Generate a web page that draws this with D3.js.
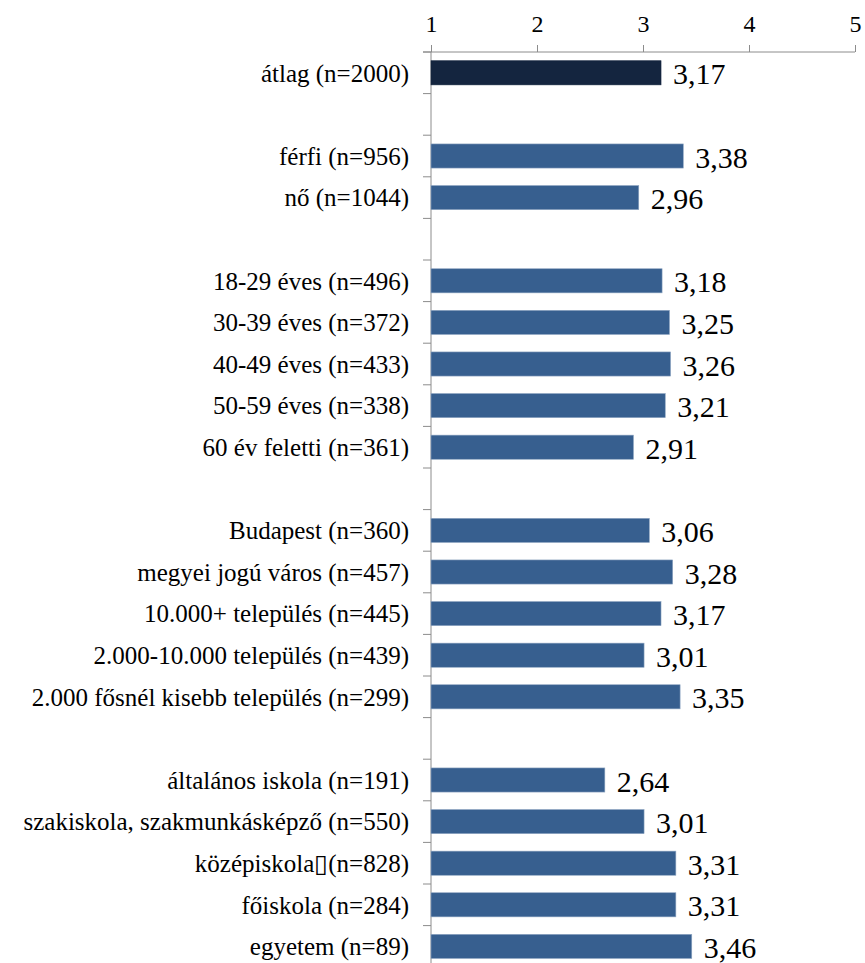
<!DOCTYPE html>
<html><head><meta charset="utf-8">
<script src="https://cdn.jsdelivr.net/npm/d3@7/dist/d3.min.js"></script>
</head><body style="margin:0">
<svg id="chart" width="865" height="963" font-family='"Liberation Serif"'></svg>
<script>
// ---- data ----
const categories = [
  "átlag (n=2000)",
  "",
  "férfi (n=956)",
  "nő (n=1044)",
  "",
  "18-29 éves (n=496)",
  "30-39 éves (n=372)",
  "40-49 éves (n=433)",
  "50-59 éves (n=338)",
  "60 év feletti (n=361)",
  "",
  "Budapest (n=360)",
  "megyei jogú város (n=457)",
  "10.000+ település (n=445)",
  "2.000-10.000 település (n=439)",
  "2.000 fősnél kisebb település (n=299)",
  "",
  "általános iskola (n=191)",
  "szakiskola, szakmunkásképző (n=550)",
  "középiskola▯(n=828)",
  "főiskola (n=284)",
  "egyetem (n=89)"
];
const values = [
  3.17,
  null,
  3.38, 2.96,
  null,
  3.18, 3.25, 3.26, 3.21, 2.91,
  null,
  3.06, 3.28, 3.17, 3.01, 3.35,
  null,
  2.64, 3.01, 3.31, 3.31, 3.46
];
const xTicks = [1, 2, 3, 4, 5];

// ---- layout ----
const svg = d3.select("#chart");
const mLeft = 431, mRight = 855, mTop = 52;
const step = 41.6;
const mBottom = mTop + step * categories.length;

const rows = categories.map((c, i) => ({ key: i, label: c, value: values[i] }));

const x = d3.scaleLinear().domain([1, 5]).range([mLeft, mRight]);
const y = d3.scaleBand()
  .domain(rows.map(d => d.key))
  .range([mTop, mBottom])
  .paddingInner(0.42)
  .paddingOuter(0.21);

const axisColor = "#8c8c8c";

// top axis
const xAxis = d3.axisTop(x).tickValues(xTicks).tickSize(7).tickSizeOuter(0).tickFormat(d3.format("d"));
const gx = svg.append("g").attr("transform", `translate(0,${mTop})`).call(xAxis);
gx.attr("font-family", '"Liberation Serif"').attr("font-size", 24);
gx.select(".domain").attr("stroke", axisColor).attr("d", `M${mLeft - 8},0H${mRight}`);
gx.selectAll(".tick line").attr("stroke", axisColor);
gx.selectAll(".tick text")
  .attr("font-family", '"Liberation Serif"')
  .attr("font-size", 24)
  .attr("y", -20)
  .attr("fill", "#000");

// left axis line + ticks at band boundaries
const boundaries = d3.range(categories.length + 1).map(i => y.range()[0] + i * y.step());
svg.append("line")
  .attr("x1", mLeft).attr("x2", mLeft)
  .attr("y1", mTop).attr("y2", mBottom)
  .attr("stroke", axisColor);
svg.append("g").selectAll("line").data(boundaries).join("line")
  .attr("x1", mLeft - 8).attr("x2", mLeft)
  .attr("y1", d => d).attr("y2", d => d)
  .attr("stroke", axisColor);

// category labels
svg.append("g").selectAll("text").data(rows.filter(d => d.label)).join("text")
  .attr("x", mLeft - 22)
  .attr("y", d => y(d.key) + y.bandwidth() / 2)
  .attr("font-size", 25)
  .attr("font-family", '"Liberation Serif"')
  .attr("dy", "0.35em")
  .attr("text-anchor", "end")
  .text(d => d.label);

// bars
const dataRows = rows.filter(d => d.value != null);
svg.append("g").selectAll("rect").data(dataRows).join("rect")
  .attr("x", x(1))
  .attr("y", d => y(d.key))
  .attr("width", d => x(d.value) - x(1))
  .attr("height", y.bandwidth())
  .attr("fill", d => d.key === 0 ? "#14253f" : "#375f8f")
  .attr("stroke", d => d.key === 0 ? "#14253f" : "#8fa6c2")
  .attr("stroke-width", 0.6);

// value labels
const fmt = d3.formatLocale({ decimal: ",", thousands: " ", grouping: [3], currency: ["", ""] }).format(".2f");
svg.append("g").selectAll("text").data(dataRows).join("text")
  .attr("x", d => x(d.value) + 12)
  .attr("y", d => y(d.key) + y.bandwidth() / 2 + 1)
  .attr("font-size", 30)
  .attr("font-family", '"Liberation Serif"')
  .attr("dy", "0.35em")
  .text(d => fmt(d.value));
</script>
</body>
</html>
